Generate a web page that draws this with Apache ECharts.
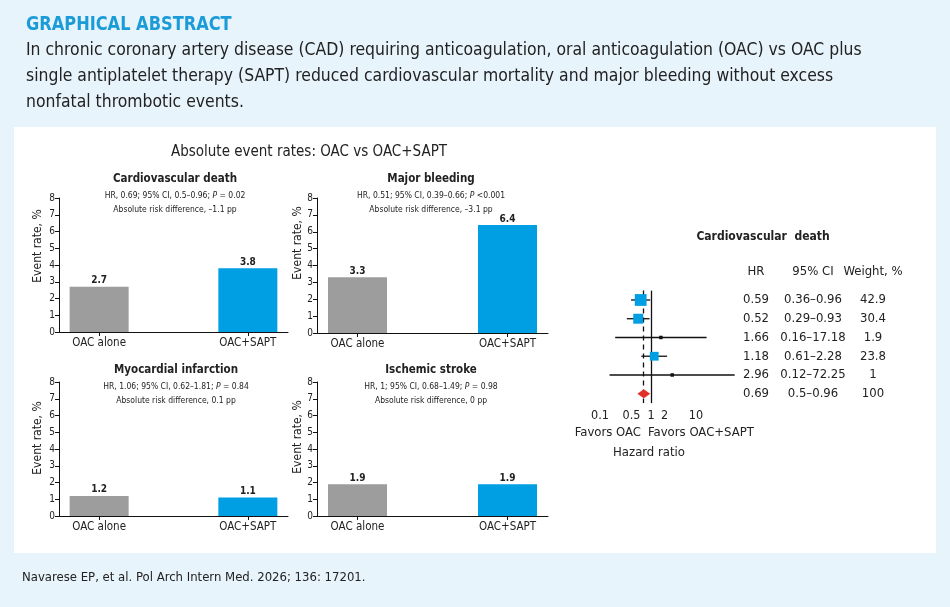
<!DOCTYPE html>
<html>
<head>
<meta charset="utf-8">
<script src="https://cdn.jsdelivr.net/npm/echarts@6/dist/echarts.min.js"></script>
<style>
  html, body { margin: 0; padding: 0; background: #e8f4fc; }
  #main { width: 950px; height: 607px; }
</style>
</head>
<body>
<div id="main"></div>
<script>
// bar panels: absolute event rates
var groups = ['OAC alone', 'OAC+SAPT'];
var outcomes = ['Cardiovascular death', 'Major bleeding', 'Myocardial infarction', 'Ischemic stroke'];
var rateOAC = [2.7, 3.3, 1.2, 1.9];
var rateSAPT = [3.8, 6.4, 1.1, 1.9];
var outcomeHR = [0.69, 0.51, 1.06, 1];
var outcomeLow = [0.5, 0.39, 0.62, 0.68];
var outcomeHigh = [0.96, 0.66, 1.81, 1.49];
var outcomeP = ['= 0.02', '<0.001', '= 0.84', '= 0.98'];
var riskDiff = [-1.1, -3.1, 0.1, 0];

// forest plot: cardiovascular death
var studyHR = [0.59, 0.52, 1.66, 1.18, 2.96, 0.69];
var studyLow = [0.36, 0.29, 0.16, 0.61, 0.12, 0.5];
var studyHigh = [0.96, 0.93, 17.18, 2.28, 72.25, 0.96];
var studyWeight = [42.9, 30.4, 1.9, 23.8, 1, 100];
var hrTicks = [0.1, 0.5, 1, 2, 10];

var FONT = "'Liberation Sans Narrow', 'DejaVu Sans Condensed', sans-serif";
var INK = '#222';
var GRAY = '#9d9d9d';
var BLUE = '#009fe3';
var RED = '#e3312a';

var chart = echarts.init(document.getElementById('main'));

// grid positions for the 4 bar panels
var panels = [
  { left: 59, top: 198, width: 229, height: 134, cx: 175, ty: 179, nx: 38, ny: 246 },
  { left: 317, top: 198, width: 231, height: 135, cx: 431, ty: 179, nx: 298, ny: 243 },
  { left: 59, top: 382, width: 229, height: 134, cx: 176, ty: 370, nx: 38, ny: 438 },
  { left: 317, top: 382, width: 231, height: 134, cx: 431, ty: 370, nx: 298, ny: 437 }
];

function dash(v) {
  return v < 0 ? '\u2013' + Math.abs(v) : String(v);
}

var grids = [], xAxes = [], yAxes = [], series = [], graphics = [];

graphics.push({ type: 'rect', z: -10, shape: { x: 14, y: 127, width: 922, height: 426 }, style: { fill: '#fff' } });
graphics.push({ type: 'text', x: 26, y: 25, scaleX: 0.9, style: { text: 'GRAPHICAL ABSTRACT', font: 'bold 20px ' + FONT, fill: '#1b9bd7', verticalAlign: 'middle' } });
var bodyLines = [
  'In chronic coronary artery disease (CAD) requiring anticoagulation, oral anticoagulation (OAC) vs OAC plus',
  'single antiplatelet therapy (SAPT) reduced cardiovascular mortality and major bleeding without excess',
  'nonfatal thrombotic events.'
];
bodyLines.forEach(function (t, i) {
  graphics.push({ type: 'text', x: 26, y: 50 + i * 26, scaleX: 0.967, style: { text: t, font: '18px ' + FONT, fill: INK, verticalAlign: 'middle' } });
});
graphics.push({ type: 'text', x: 22, y: 578, style: { text: 'Navarese EP, et al. Pol Arch Intern Med. 2026; 136: 17201.', font: '13px ' + FONT, fill: INK, verticalAlign: 'middle' } });
graphics.push({ type: 'text', x: 309, y: 152, style: { text: 'Absolute event rates: OAC vs OAC+SAPT', font: '15px ' + FONT, fill: INK, align: 'center', verticalAlign: 'middle' } });

panels.forEach(function (p, k) {
  grids.push({ left: p.left, top: p.top, width: p.width, height: p.height });
  xAxes.push({
    gridIndex: k, type: 'value', min: -0.27, max: 1.27,
    axisLine: { lineStyle: { color: '#111' } },
    axisTick: { customValues: [0, 1], length: 4, lineStyle: { color: '#111' } },
    axisLabel: {
      customValues: [0, 1], margin: 5, color: INK, fontFamily: FONT, fontSize: 11.5,
      formatter: function (v) { return groups[Math.round(v)]; }
    },
    splitLine: { show: false }
  });
  yAxes.push({
    gridIndex: k, type: 'value', min: 0, max: 8, interval: 1,
    axisLine: { show: true, onZero: false, lineStyle: { color: '#111' } },
    axisTick: { show: true, length: 4, lineStyle: { color: '#111' } },
    axisLabel: { color: INK, fontFamily: FONT, fontSize: 10, margin: 4 },
    splitLine: { show: false }
  });
  series.push({
    type: 'bar', xAxisIndex: k, yAxisIndex: k, barWidth: 59,
    data: [
      { value: [0, rateOAC[k]], itemStyle: { color: GRAY } },
      { value: [1, rateSAPT[k]], itemStyle: { color: BLUE } }
    ],
    label: {
      show: true, position: 'top', distance: 1, color: INK,
      fontFamily: FONT, fontSize: 10, fontWeight: 'bold',
      formatter: function (d) { return d.value[1].toFixed(1); }
    }
  });
  graphics.push({ type: 'text', x: p.cx, y: p.ty, style: { text: outcomes[k], font: 'bold 11.5px ' + FONT, fill: INK, align: 'center', verticalAlign: 'middle' } });
  graphics.push({ type: 'text', x: p.cx, y: p.ty + 16.5, style: {
    text: 'HR, ' + outcomeHR[k] + '; 95% CI, ' + outcomeLow[k] + '\u2013' + outcomeHigh[k] + '; {i|P} ' + outcomeP[k],
    font: '8.5px ' + FONT, fill: INK, align: 'center', verticalAlign: 'middle',
    rich: { i: { fontStyle: 'italic', fontFamily: FONT, fontSize: 8.5, fill: INK } }
  } });
  graphics.push({ type: 'text', x: p.cx, y: p.ty + 31, style: { text: 'Absolute risk difference, ' + dash(riskDiff[k]) + ' pp', font: '8.5px ' + FONT, fill: INK, align: 'center', verticalAlign: 'middle' } });
  graphics.push({ type: 'text', x: p.nx, y: p.ny, rotation: Math.PI / 2, style: { text: 'Event rate, %', font: '12px ' + FONT, fill: INK, align: 'center', verticalAlign: 'middle' } });
});

// forest plot grid
grids.push({ left: 606, top: 290.6, width: 90, height: 112.5 });
xAxes.push({
  gridIndex: 4, type: 'log', logBase: 10, min: 0.1, max: 10,
  axisLine: { lineStyle: { color: '#111', width: 1.3 } },
  axisTick: { customValues: hrTicks, length: 4, lineStyle: { color: '#111', width: 1.3 } },
  axisLabel: {
    customValues: hrTicks, margin: 6, color: INK, fontFamily: FONT, fontSize: 12.5,
    formatter: function (v) { return v < 1 ? '{s|' + v + '}' : String(v); },
    rich: { s: { fontFamily: FONT, fontSize: 12.5, color: INK, padding: [0, 12, 0, 0] } }
  },
  splitLine: { show: false }
});
yAxes.push({ gridIndex: 4, type: 'category', inverse: true, show: false, data: studyHR.map(function (v, i) { return i; }) });

var colX = [756, 813, 873];
function forestItem(params, api) {
  var i = params.dataIndex;
  var y = api.coord([1, i])[1];
  var xl = api.coord([studyLow[i], i])[0];
  var xh = api.coord([studyHigh[i], i])[0];
  var xc = api.coord([studyHR[i], i])[0];
  var last = i === studyHR.length - 1;
  var kids = [];
  if (last) {
    kids.push({ type: 'polygon', shape: { points: [[xl, y], [xc, y - 4.5], [xh, y], [xc, y + 4.5]] }, style: { fill: RED } });
  } else {
    kids.push({ type: 'line', shape: { x1: xl, y1: y, x2: xh, y2: y }, style: { stroke: '#111', lineWidth: 1.3 } });
    var s = Math.max(3.5, 1.8 * Math.sqrt(studyWeight[i]));
    var big = studyWeight[i] > 5;
    kids.push({ type: 'rect', shape: { x: xc - s / 2, y: y - s / 2, width: s, height: s }, style: { fill: big ? BLUE : '#111' } });
  }
  var cells = [String(studyHR[i]), studyLow[i] + '\u2013' + studyHigh[i], String(studyWeight[i])];
  cells.forEach(function (t, c) {
    kids.push({ type: 'text', x: colX[c], y: y, style: { text: t, font: '13px ' + FONT, fill: INK, align: 'center', verticalAlign: 'middle' } });
  });
  return { type: 'group', children: kids };
}

series.push({
  type: 'custom', xAxisIndex: 4, yAxisIndex: 4, clip: false,
  renderItem: forestItem,
  encode: { x: 0, y: 1 },
  data: studyHR.map(function (v, i) { return [v, i]; }),
  markLine: {
    silent: true, symbol: 'none', label: { show: false },
    data: [
      { xAxis: 1, lineStyle: { color: '#111', width: 1.3, type: 'solid' } },
      { xAxis: studyHR[studyHR.length - 1], lineStyle: { color: '#111', width: 1.3, type: [5, 4] } }
    ]
  },
  z: 5
});

graphics.push({ type: 'text', x: 763, y: 237, style: { text: 'Cardiovascular  death', font: 'bold 12px ' + FONT, fill: INK, align: 'center', verticalAlign: 'middle' } });
['HR', '95% CI', 'Weight, %'].forEach(function (t, c) {
  graphics.push({ type: 'text', x: colX[c], y: 272, style: { text: t, font: '13px ' + FONT, fill: INK, align: 'center', verticalAlign: 'middle' } });
});
graphics.push({ type: 'text', x: 641, y: 433, style: { text: 'Favors OAC', font: '13px ' + FONT, fill: INK, align: 'right', verticalAlign: 'middle' } });
graphics.push({ type: 'text', x: 648, y: 433, style: { text: 'Favors OAC+SAPT', font: '13px ' + FONT, fill: INK, align: 'left', verticalAlign: 'middle' } });
graphics.push({ type: 'text', x: 649, y: 453, style: { text: 'Hazard ratio', font: '13px ' + FONT, fill: INK, align: 'center', verticalAlign: 'middle' } });

chart.setOption({
  backgroundColor: '#e8f4fc',
  animation: false,
  grid: grids,
  xAxis: xAxes,
  yAxis: yAxes,
  series: series,
  graphic: { elements: graphics }
});
</script>
</body>
</html>
